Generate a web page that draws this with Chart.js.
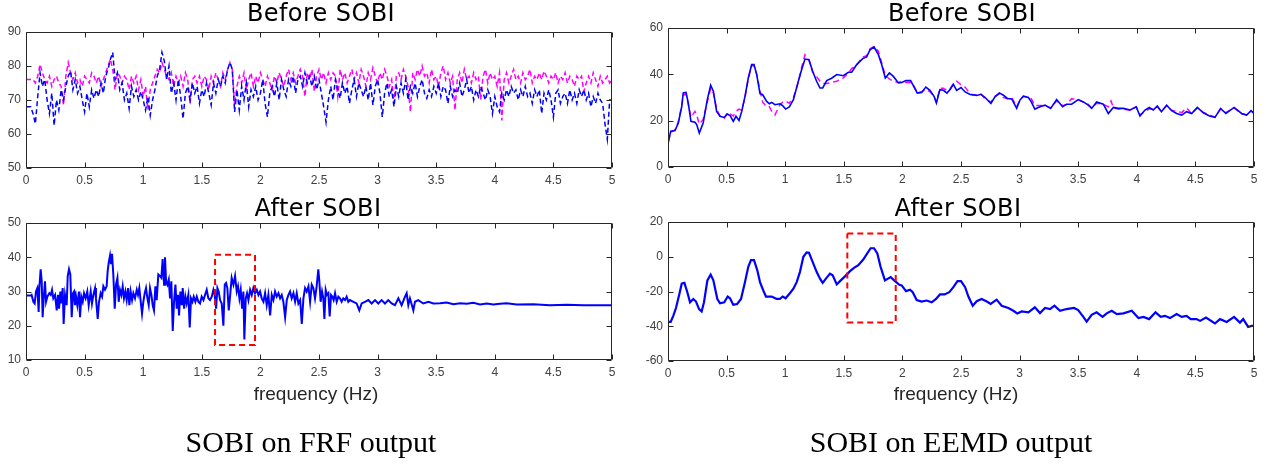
<!DOCTYPE html>
<html><head><meta charset="utf-8">
<script src="https://cdn.jsdelivr.net/npm/chart.js@4.4.1/dist/chart.umd.min.js"></script>
<style>
html,body{margin:0;padding:0;background:#fff;}
#wrap{position:relative;width:1271px;height:465px;overflow:hidden;background:#fff;}
canvas{position:absolute;}
.t{position:absolute;white-space:nowrap;transform:translateX(-50%);color:#000;line-height:normal;}
.title{font-family:"DejaVu Sans",Verdana,sans-serif;font-size:24px;letter-spacing:0.4px;color:#000;}
.xl{font-family:"Liberation Sans",Arial,sans-serif;font-size:19px;color:#262626;}
.cap{font-family:"Liberation Serif","Times New Roman",serif;font-size:30px;color:#000;}
</style></head>
<body><div id="wrap">
<canvas id="c1" width="630" height="200" style="left:0;top:0"></canvas>
<canvas id="c2" width="630" height="210" style="left:0;top:190px"></canvas>
<canvas id="c3" width="641" height="200" style="left:630px;top:0"></canvas>
<canvas id="c4" width="641" height="210" style="left:630px;top:190px"></canvas>
<div class="t title" style="left:321px;top:-1px">Before SOBI</div>
<div class="t title" style="left:318px;top:194px">After SOBI</div>
<div class="t title" style="left:962px;top:-1px">Before SOBI</div>
<div class="t title" style="left:958px;top:194px">After SOBI</div>
<div class="t xl" style="left:316px;top:383px">frequency (Hz)</div>
<div class="t xl" style="left:956px;top:383px">frequency (Hz)</div>
<div class="t cap" style="left:311px;top:425px">SOBI on FRF output</div>
<div class="t cap" style="left:951px;top:425px">SOBI on EEMD output</div>
</div>
<script>
// ---------- DATA ----------
const frfFreq = [
0,0.02,0.04,0.06,0.08,0.1,0.12,0.14,0.16,0.18,
0.2,0.22,0.24,0.26,0.28,0.3,0.32,0.34,0.36,0.38,
0.4,0.42,0.44,0.46,0.48,0.5,0.52,0.54,0.56,0.58,
0.6,0.62,0.64,0.66,0.68,0.7,0.72,0.74,0.76,0.78,
0.8,0.82,0.84,0.86,0.88,0.9,0.92,0.94,0.96,0.98,
1,1.02,1.04,1.06,1.08,1.1,1.12,1.14,1.16,1.18,
1.2,1.22,1.24,1.26,1.28,1.3,1.32,1.34,1.36,1.38,
1.4,1.42,1.44,1.46,1.48,1.5,1.52,1.54,1.56,1.58,
1.6,1.62,1.64,1.66,1.68,1.7,1.72,1.74,1.76,1.78,
1.8,1.82,1.84,1.86,1.88,1.9,1.92,1.94,1.96,1.98,
2,2.02,2.04,2.06,2.08,2.1,2.12,2.14,2.16,2.18,
2.2,2.22,2.24,2.26,2.28,2.3,2.32,2.34,2.36,2.38,
2.4,2.42,2.44,2.46,2.48,2.5,2.52,2.54,2.56,2.58,
2.6,2.62,2.64,2.66,2.68,2.7,2.72,2.74,2.76,2.78,
2.8,2.82,2.84,2.86,2.88,2.9,2.92,2.94,2.96,2.98,
3,3.02,3.04,3.06,3.08,3.1,3.12,3.14,3.16,3.18,
3.2,3.22,3.24,3.26,3.28,3.3,3.32,3.34,3.36,3.38,
3.4,3.42,3.44,3.46,3.48,3.5,3.52,3.54,3.56,3.58,
3.6,3.62,3.64,3.66,3.68,3.7,3.72,3.74,3.76,3.78,
3.8,3.82,3.84,3.86,3.88,3.9,3.92,3.94,3.96,3.98,
4,4.02,4.04,4.06,4.08,4.1,4.12,4.14,4.16,4.18,
4.2,4.22,4.24,4.26,4.28,4.3,4.32,4.34,4.36,4.38,
4.4,4.42,4.44,4.46,4.48,4.5,4.52,4.54,4.56,4.58,
4.6,4.62,4.64,4.66,4.68,4.7,4.72,4.74,4.76,4.78,
4.8,4.82,4.84,4.86,4.88,4.9,4.92,4.94,4.96,4.98,
5];
const frfBeforeBlue = [
68,68,68,66,63,71,78,74,76,70,
66,72,62.5,70,67,73,70,74,77,78.5,
73,76,72,74,70,66.5,72,68,73,70.5,
73,71,75,72,77,79,82,84,76,78,
73,75,70,72,67.5,74,71,73,70,72.5,
70,67,71,65.5,70,73,77,79,84,81.5,
76,80,72,75,70,76,71,64.5,72,74,
70,75,72,74,69,73,71,75,72,68.5,
75,72,76,74,77,75,79,81,79,66.5,
73,67,74,70,75,68,73,71,74,70,
72,76,69,65,72,74,71,75,70,76,
73,71,76,74,77,72,76,77,74,78,
75,77,74,77,73,76,72,68,63.5,70,
74,70,76,73,70.5,75,72,74,69,73,
76,71,75,73,71,74,70,75,68.5,74,
76,72,65,72,75,71,73,68,74,71,
75,72,76,70,74,72,75,71,74,76,
72,70.5,73,71,74,72,75,71,74,73,
69,74,71,73,72,75,71,73,76,72,
74,70,73,71,74,72,70,73,71,66,
71,68,66.5,72,70,73,71,74,72,73,
70,73,71,74,71,72,69,73,71,73,
66,72,70,73,70,65,72,73,69,71,
72,69,73,70,72,69,73,71,73,70,
72,68,71,69,72,70,69,63,58.5,70,
70];
const frfBeforeMagenta = [
76,76,76,76,75,77,80.5,78,76,75,
77,74,76,77,75,74,68.5,77,81,78,
76,78,75,76,74,77,76,75,78,77,
75,77,74,76,78,80,82,79,73,78,
77,75,77,76,73,77,75,77,73,76,
71,74,67,73,75,77,79,78,81,79,
77,76,78,74,77,75,77,74,78,76,
69,76,77,75,77,74,77,76,73,77,
75,78,76,74,78,76,79,81,79,68.5,
74,77,75,78,73,76,78,74,77,75,
78,76,74,77,75,73,77,75,78,76,
74,77,79,76,78,75,77,79,77,71,
78,76,79,72.5,77,79,76,78,75,78,
76,78,77,71,79,76,78,75,77,79,
76,78,75,79,77,74,78,76,79.5,77,
75,78,76,79,77,74,76,69,77,78,
76,79,77,74,66.5,78,76,79,77,80,
77,78,75,79,76,77,74,78,80,76,
78,75,77,67,76,78,75,79,76,77,
75,78,76,77,70,77,79,75,78,76,
77,74,78,64,76,78,75,77,79,76,
77,75,78,76,77,79,75,77,76,78,
76,78.5,77,75,77,76,78,75,77,76,
78,75,77,76,74,77,76,77,72.5,75,
77,75,78,76,74,77,75,76,77,75,
76];

const frfAfterFreq = [
0,0.02,0.04,0.048,0.063,0.074,0.085,0.097,0.108,0.114,
0.125,0.134,0.142,0.151,0.162,0.171,0.182,0.199,0.211,0.222,
0.233,0.248,0.262,0.273,0.282,0.293,0.302,0.313,0.321,0.333,
0.347,0.356,0.367,0.378,0.39,0.401,0.41,0.418,0.427,0.438,
0.452,0.461,0.472,0.484,0.495,0.509,0.523,0.535,0.552,0.563,
0.575,0.589,0.597,0.612,0.623,0.637,0.649,0.66,0.674,0.688,
0.697,0.706,0.717,0.725,0.734,0.745,0.757,0.768,0.78,0.791,
0.802,0.814,0.825,0.836,0.848,0.859,0.871,0.882,0.893,0.905,
0.916,0.93,0.945,0.956,0.967,0.979,0.99,1.001,1.013,1.024,
1.036,1.047,1.058,1.07,1.081,1.092,1.104,1.115,1.129,1.144,
1.155,1.166,1.178,1.186,1.195,1.206,1.218,1.229,1.24,1.252,
1.263,1.275,1.286,1.297,1.306,1.317,1.329,1.337,1.349,1.36,
1.371,1.385,1.397,1.408,1.42,1.431,1.445,1.457,1.471,1.485,
1.499,1.514,1.528,1.542,1.556,1.57,1.585,1.599,1.61,1.622,
1.633,1.644,1.656,1.67,1.684,1.696,1.707,1.718,1.73,1.741,
1.755,1.77,1.784,1.798,1.809,1.821,1.832,1.844,1.855,1.863,
1.875,1.886,1.898,1.912,1.926,1.94,1.954,1.969,1.983,1.997,
2.011,2.026,2.04,2.054,2.068,2.083,2.097,2.111,2.125,2.139,
2.154,2.168,2.182,2.196,2.211,2.225,2.239,2.253,2.267,2.282,
2.296,2.31,2.324,2.339,2.353,2.367,2.381,2.395,2.41,2.424,
2.438,2.452,2.466,2.48,2.494,2.503,2.514,2.526,2.537,2.546,
2.557,2.568,2.58,2.591,2.603,2.614,2.625,2.637,2.651,2.665,
2.679,2.693,2.707,2.722,2.736,2.75,2.764,2.793,2.821,2.844,
2.864,2.892,2.921,2.949,2.978,3.006,3.034,3.063,3.091,3.12,
3.148,3.177,3.205,3.234,3.248,3.262,3.276,3.305,3.319,3.347,
3.39,3.433,3.476,3.533,3.589,3.647,3.704,3.76,3.817,3.874,
3.931,3.988,4.045,4.101,4.187,4.329,4.471,4.614,4.756,4.898,
5];
const frfAfterBlue = [
28.8,28.8,28.8,29,27,26.5,30,31,24,31,
36.5,33,22.5,28,33,27,28.5,29.5,29,30.5,
28,29,24.5,29,25,30,26.5,31,20.5,29,
26,34.5,36.5,35,22.5,29.5,30,26,28.5,26,
30,22.5,28.5,27,29.5,28,30,26,30,26.5,
29,31,28,22,27,29.5,28.5,31.5,30.5,31.5,
36,38.5,40.5,38,41,35,25,32,34,27,
30.5,29,31.5,28,30,27.5,31,26,30,27.5,
29.5,28,30.5,29,31,27,23.5,27,29.5,31,
28,26,31,29,26,24.5,31.5,27.5,35,34.5,
34,39.5,32,40,33,32,33.5,28,33,18.5,
27,32,25,29,23,30,26,31,25,28.5,
26.5,29,19.5,28,27,28.5,27,28.5,27,26.5,
28.5,27.5,29,30.5,28,27.5,28.5,30.5,29,25,
31,30,27.5,26.5,20,32,32.5,31,24.5,28.5,
34,32,34.5,30,31.5,28,30.5,25,30,16,
28,29.5,27.5,30.5,29,31,29.5,30.5,29,30,
28,27,29.5,26,29,23,29,27.5,30,28.5,
29.5,28,29,27,22.5,27.5,29,30,28,29.5,
27,29.5,26.5,27.5,20.5,28,31,30,31.5,27,
32,31,28,31.5,36.5,33,27,30,28,22,
30.5,29,29.5,22.7,29,28.5,27.5,29.5,27,28.5,
28,27,28,27.5,28.5,27,27.5,27,26.5,24.5,
26.5,27,27.5,26.5,27.5,26.5,27.5,26.5,27.5,26.5,
26,28,26,28.5,29.5,26,28,24.5,27,27.5,
26.5,27,26.5,26.6,26.8,26.3,26.6,26.4,26.7,26.2,
26.5,26.2,26.4,26.6,26.2,26.3,26,26.1,26,26,
26];
const frfBoxX = [1.613,1.954,1.954,1.613,1.613];
const frfBoxY = [40.7,40.7,14.4,14.4,40.7];

const eemdBeforeFreq = [
0,0.023,0.06,0.088,0.117,0.13,0.154,0.173,0.196,0.23,
0.245,0.267,0.3,0.335,0.364,0.387,0.415,0.444,0.48,0.506,
0.53,0.557,0.58,0.606,0.629,0.657,0.685,0.714,0.734,0.757,
0.785,0.808,0.842,0.865,0.885,0.913,0.956,0.978,1.004,1.035,
1.07,1.112,1.14,1.169,1.203,1.234,1.268,1.297,1.32,1.354,
1.396,1.44,1.496,1.539,1.567,1.61,1.661,1.695,1.724,1.758,
1.795,1.823,1.854,1.889,1.923,1.966,1.994,2.031,2.07,2.093,
2.127,2.164,2.2,2.235,2.27,2.29,2.32,2.35,2.38,2.41,
2.435,2.463,2.5,2.535,2.578,2.634,2.67,2.706,2.755,2.79,
2.827,2.862,2.896,2.933,2.975,3.003,3.032,3.075,3.1,3.13,
3.174,3.217,3.265,3.316,3.367,3.4,3.444,3.5,3.544,3.586,
3.615,3.657,3.714,3.757,3.78,3.8,3.843,3.886,3.943,3.995,
4.027,4.07,4.106,4.14,4.175,4.21,4.255,4.297,4.34,4.383,
4.425,4.468,4.516,4.568,4.62,4.667,4.715,4.76,4.83,4.894,
4.937,4.975,5];
const eemdBeforeBlue = [
10,15.4,15.7,19,26,32,32.2,27.6,19.7,19.3,
18.3,14.7,19,29,35.3,32.7,24,21.9,21.4,22.9,
22.2,19.7,21.9,20.1,24,30.5,38.4,44.2,44.2,39.9,
31.7,31.2,28.3,27.3,27.9,26.9,27.3,26.5,25,25.9,
29.1,37,42,46.6,46.3,41.3,37,34.1,34.1,37.3,
38.3,39.9,39.4,40.9,40.9,44.2,46.8,47.5,50.6,51.8,
48.5,44.2,38.4,40.6,39.1,36.3,36.5,37.3,37.3,35.1,
31.9,32.2,34.5,33.1,30.5,27.6,33.4,33.1,31.9,33.7,
35.7,33.1,34.3,32.4,31.3,30.9,31.4,30,27.4,30.3,
32,31,29.6,29.4,25.3,28.9,30.6,30,28.1,25,
26,26.7,25.3,29.1,26,27.1,27.1,29.1,28.1,26.7,
25.3,28.1,27.1,23.1,24.5,25.7,25.3,25.3,24.6,26,
22,24.6,25.7,24.6,26.3,23.9,26.7,24.3,23.1,22.4,
23.9,23.1,25.7,23.4,22,21.4,25.3,23.1,25.7,23.1,
22.4,24.3,23.1];
const eemdBeforeMagenta = [
11,15,16,19.5,26.5,31,31.5,27,21.5,24,
22.5,18.5,20.5,28,34,32,25,22,21,23.5,
23,22,24,25,24.5,30,38,44,43.5,40,
33,28,26,26,24,22.5,27,28,28.5,27.5,
30,36.5,43,48.5,46,41,39,37,36,36,
36.5,37,38.5,40.5,42.5,44,47.5,48,51,52,
50,45,39.5,38,37,36.5,37,36.5,36.5,35.5,
32,32.5,33.5,32.5,30.5,28,34,34,33,34,
36,37,35.5,34.5,31.5,31,31.5,29.5,28,30.5,
31.5,30,29.5,30,26,29,30.5,30,29.5,26.5,
26.5,26.5,25.5,28.5,26.5,27,29.5,29,28,27,
25.5,27.5,27,26,28.5,25.5,25,25,24.5,26,
22.5,24,25,25,26,24,26.5,24.5,24,23.5,
25.5,23,25.5,23.5,22.5,21.5,25,23.5,25.5,23,
22.5,24,23.5];

const eemdAfterFreq = [
0,0.023,0.045,0.068,0.097,0.117,0.14,0.165,0.188,0.216,
0.239,0.265,0.287,0.307,0.336,0.364,0.387,0.421,0.444,0.48,
0.509,0.529,0.557,0.59,0.623,0.657,0.685,0.708,0.734,0.762,
0.785,0.813,0.836,0.885,0.927,0.955,0.978,1.004,1.04,1.07,
1.098,1.126,1.155,1.183,1.203,1.234,1.268,1.297,1.32,1.354,
1.382,1.405,1.44,1.474,1.51,1.553,1.587,1.624,1.666,1.7,
1.729,1.758,1.786,1.814,1.851,1.9,1.937,1.974,1.994,2.031,
2.065,2.088,2.122,2.164,2.207,2.25,2.287,2.32,2.36,2.4,
2.435,2.47,2.5,2.535,2.563,2.6,2.634,2.676,2.72,2.753,
2.804,2.847,2.904,2.947,2.98,3.018,3.075,3.13,3.174,3.217,
3.26,3.297,3.345,3.4,3.464,3.5,3.544,3.572,3.615,3.657,
3.708,3.743,3.786,3.83,3.886,3.957,4.014,4.057,4.105,4.16,
4.204,4.24,4.283,4.34,4.383,4.425,4.46,4.51,4.54,4.59,
4.667,4.71,4.767,4.83,4.88,4.908,4.95,4.98,5];
const eemdAfterBlue = [
-37.5,-37.5,-34,-29.5,-21.4,-15.5,-15,-20.4,-26.2,-24.3,
-25.8,-30.1,-31.5,-26.2,-13.6,-10.3,-13.6,-24.3,-26.8,-26.2,
-22.9,-23.9,-27.6,-27.2,-24.3,-14.6,-5.8,-1.9,-1.9,-7.8,
-14.6,-19.4,-22.9,-22.9,-24.3,-24.3,-22.9,-23.9,-21,-18.4,
-14.6,-8.7,0,2.5,2.3,-2.9,-8.7,-12.6,-15,-12,
-9.7,-10.7,-15.9,-13.6,-11.3,-8.3,-6.4,-4.9,-1.6,1.9,
4.9,4.9,1.9,-5.8,-13.6,-11.7,-14,-16.1,-16.5,-19.8,
-19,-20.4,-24.9,-25.8,-25.2,-26.2,-24.3,-21.7,-21.7,-20.4,
-17.5,-14,-14,-17.5,-22.9,-28.2,-25.6,-24.3,-25.8,-27.2,
-24.7,-28.2,-29.5,-31.1,-32.6,-31.5,-32,-29.1,-32.4,-29.5,
-30.1,-28.2,-31.1,-30.1,-29.5,-30.7,-34.6,-37.3,-33.4,-32,
-34.6,-32.6,-31.1,-33,-32.6,-31.1,-35.3,-34.6,-35.9,-32,
-34.6,-34,-35.3,-33,-34.6,-34,-35.9,-35.9,-36.9,-35,
-38.4,-35.9,-37.5,-34.6,-37.9,-35.9,-40.4,-39.8,-39.8];
const eemdBoxX = [1.53,1.943,1.943,1.53,1.53];
const eemdBoxY = [13.4,13.4,-37.9,-37.9,13.4];

const xTickStep = 0.5;

// ---------- CHARTS ----------
function pts(xs, ys){ return xs.map((x,i)=>({x:x, y:ys[i]})); }

const boxPlugin = {
  id: 'matlabBox',
  afterDatasetsDraw(chart){
    const ctx = chart.ctx, a = chart.chartArea, xs = chart.scales.x, ys = chart.scales.y;
    const L = Math.round(a.left)+0.5, R = Math.round(a.right)-0.5, T = Math.round(a.top)+0.5, B = Math.round(a.bottom)-0.5;
    const tl = 5;
    ctx.save();
    ctx.strokeStyle = '#262626';
    ctx.lineWidth = 1;
    ctx.setLineDash([]);
    ctx.beginPath();
    ctx.rect(L, T, R-L, B-T);
    xs.ticks.forEach(t => {
      const p = Math.round(xs.getPixelForValue(t.value))+0.5;
      ctx.moveTo(p, B); ctx.lineTo(p, B-tl);
      ctx.moveTo(p, T); ctx.lineTo(p, T+tl);
    });
    ys.ticks.forEach(t => {
      const p = Math.round(ys.getPixelForValue(t.value))+0.5;
      ctx.moveTo(L, p); ctx.lineTo(L+tl, p);
      ctx.moveTo(R, p); ctx.lineTo(R-tl, p);
    });
    ctx.stroke();
    ctx.restore();
  }
};

const tickFont = {family: '"Liberation Sans", Arial, sans-serif', size: 12};
const tickColor = '#404040';
const plainNum = v => String(Math.round(v * 100) / 100);

function makeChart(id, datasets, yMin, yMax, yStep, yWidth, pad){
  return new Chart(document.getElementById(id), {
    type: 'line',
    data: {datasets: datasets},
    options: {
      responsive: false,
      animation: false,
      devicePixelRatio: 1,
      layout: {padding: pad, autoPadding: false},
      plugins: {legend: {display: false}, tooltip: {enabled: false}, title: {display: false}},
      elements: {point: {radius: 0}, line: {tension: 0}},
      scales: {
        x: {
          type: 'linear', min: 0, max: 5,
          ticks: {stepSize: xTickStep, font: tickFont, color: tickColor, padding: 5, maxRotation: 0, autoSkip: false, callback: plainNum},
          grid: {display: false, drawTicks: false},
          border: {display: false},
          afterFit: s => { s.height = 22; }
        },
        y: {
          type: 'linear', min: yMin, max: yMax,
          ticks: {stepSize: yStep, font: tickFont, color: tickColor, padding: 5, callback: plainNum},
          grid: {display: false, drawTicks: false},
          border: {display: false},
          afterFit: s => { s.width = yWidth; }
        }
      }
    },
    plugins: [boxPlugin]
  });
}

makeChart('c1', [
  {data: pts(frfFreq, frfBeforeBlue), borderColor: '#0000ff', borderWidth: 1.5, borderDash: [5,3]},
  {data: pts(frfFreq, frfBeforeMagenta), borderColor: '#ff00ff', borderWidth: 1.5, borderDash: [5,3]}
], 50, 90, 10, 26, {left: 0, top: 32, right: 18, bottom: 10});

makeChart('c2', [
  {data: pts(frfBoxX, frfBoxY), borderColor: '#ff0000', borderWidth: 2, borderDash: [6,4]},
  {data: pts(frfAfterFreq, frfAfterBlue), borderColor: '#0000ff', borderWidth: 2}
], 10, 50, 10, 26, {left: 0, top: 33, right: 18, bottom: 18});

makeChart('c3', [
  {data: pts(eemdBeforeFreq, eemdBeforeBlue), borderColor: '#0000ff', borderWidth: 1.6},
  {data: pts(eemdBeforeFreq, eemdBeforeMagenta), borderColor: '#ff00ff', borderWidth: 1.5, borderDash: [6,4]}
], 0, 60, 20, 38, {left: 0, top: 28, right: 17, bottom: 11});

makeChart('c4', [
  {data: pts(eemdBoxX, eemdBoxY), borderColor: '#ff0000', borderWidth: 2, borderDash: [6,4]},
  {data: pts(eemdAfterFreq, eemdAfterBlue), borderColor: '#0000ff', borderWidth: 2.2}
], -60, 20, 20, 38, {left: 0, top: 32, right: 17, bottom: 17});
</script>
</body></html>
